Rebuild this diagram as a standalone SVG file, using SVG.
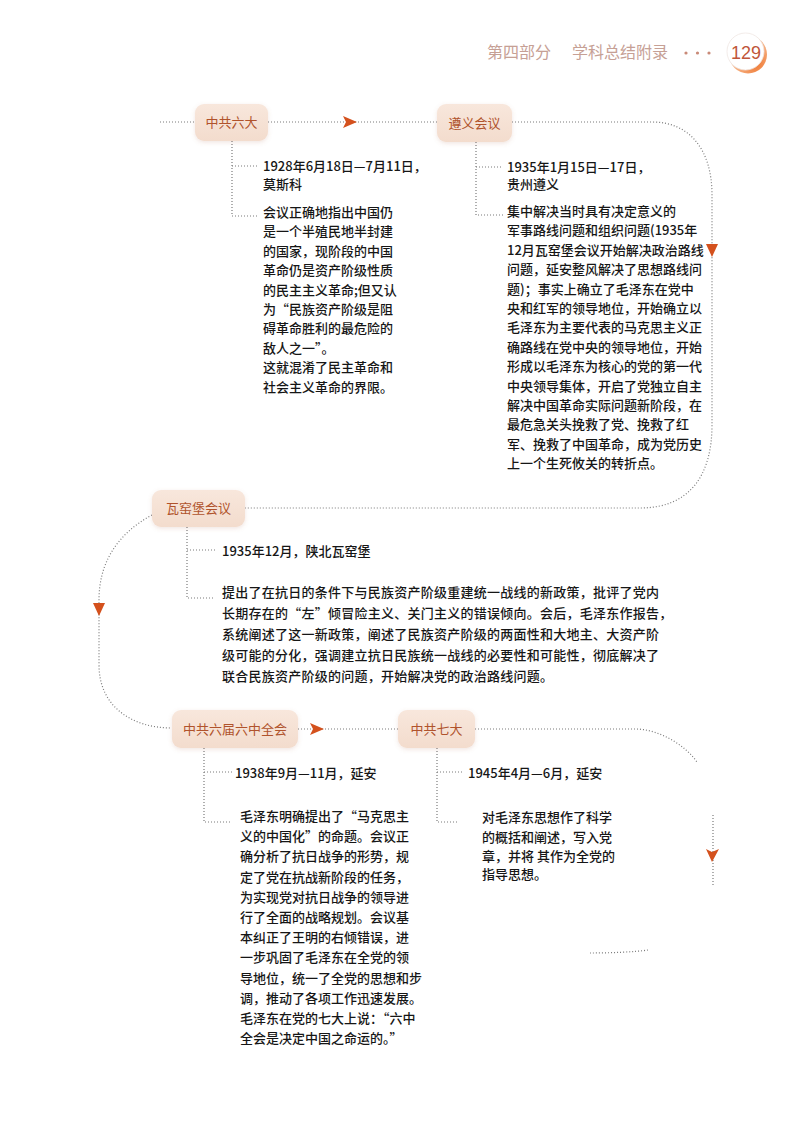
<svg xmlns="http://www.w3.org/2000/svg" width="800" height="1130" viewBox="0 0 800 1130">
<defs>
<filter id="sh" x="-20%" y="-30%" width="140%" height="170%">
<feDropShadow dx="0" dy="1.5" stdDeviation="2" flood-color="#b07050" flood-opacity="0.18"/>
</filter>
<linearGradient id="ng" x1="0" y1="0" x2="0" y2="1">
<stop offset="0" stop-color="#f8e7dc"/>
<stop offset="1" stop-color="#f3dccd"/>
</linearGradient>
<radialGradient id="og" cx="0.7" cy="0.75" r="0.6">
<stop offset="0" stop-color="#f07a35"/>
<stop offset="1" stop-color="#f6b68a"/>
</radialGradient>
</defs>
<style>
.hd{font-family:"Noto Sans CJK SC","Noto Sans",sans-serif;font-size:16px;fill:#c6a095}
.nb{fill:url(#ng);filter:url(#sh)}
.nt{font-family:"Noto Sans CJK SC","Noto Sans",sans-serif;font-size:13px;fill:#b0532c;text-anchor:middle}
.bt{font-family:"Noto Sans CJK SC","Noto Sans",sans-serif;font-size:13px;font-weight:500;fill:#161616}
.cn{fill:none;stroke:#7a7a7a;stroke-width:1.2;stroke-dasharray:1 2}
.ar{fill:#d4511d}
</style>
<rect width="800" height="1130" fill="#ffffff"/>
<!-- header -->
<g id="header">
<text class="hd" x="487" y="58">第四部分</text>
<text class="hd" x="572" y="58">学科总结附录</text>
<circle cx="686" cy="53" r="1.6" fill="#c98a78"/>
<circle cx="697.5" cy="53" r="1.6" fill="#c98a78"/>
<circle cx="709" cy="53" r="1.6" fill="#c98a78"/>
<circle cx="748" cy="54.5" r="19" fill="url(#og)"/>
<circle cx="745.5" cy="51.5" r="18.5" fill="#ffffff" stroke="#efe6e2" stroke-width="0.8"/>
<text x="746" y="58.5" font-family="'Liberation Sans','Noto Sans',sans-serif" font-size="18" fill="#c0563a" text-anchor="middle">129</text>
</g>
<!-- connectors -->
<g id="connectors">
<path class="cn" d="M160,122 H195"/>
<path class="cn" d="M268,122 H437"/>
<path class="cn" d="M512,122 H652 C690,122 712,150 712,195 V425 C712,475 690,508 640,508 H245"/>
<path class="cn" d="M152,515 C115,535 99,565 99,600 V665 C99,705 130,728 172,728"/>
<path class="cn" d="M298,729 H398"/>
<path class="cn" d="M475,729 H637 C660,730 685,745 697,762"/>
<path class="cn" d="M713,815 V887"/>
<path class="cn" d="M590,953 C610,953 635,952 648,950"/>
<path class="cn" d="M232,141 V216 H258 M232,166 H258"/>
<path class="cn" d="M476,142 V215 H503 M476,167 H503"/>
<path class="cn" d="M187,527 V598 H213 M187,550 H217"/>
<path class="cn" d="M204,748 V822 H230 M204,772 H232"/>
<path class="cn" d="M437,748 V822 H458 M437,772 H463"/>
<path class="ar" d="M343,116 L357,122 L343,128 L346,122 Z"/>
<path class="ar" d="M310,723 L324,729 L310,735 L313,729 Z"/>
<path class="ar" d="M706,244 L718,244 L712,257 Z"/>
<path class="ar" d="M93,603 L105,603 L99,616 Z"/>
<path class="ar" d="M706,849 L712,852 L719,849 L712,862 Z"/>
</g>
<!-- nodes -->
<g id="node-liuda">
<rect class="nb" x="195" y="104" width="73" height="37" rx="9"/>
<text class="nt" x="231.5" y="127">中共六大</text>
<text class="bt"><tspan x="263" y="171">1928年6月18日—7月11日，</tspan><tspan x="263" y="188.5">莫斯科</tspan></text>
<text class="bt"><tspan x="263" y="217">会议正确地指出中国仍</tspan><tspan x="263" y="236.4">是一个半殖民地半封建</tspan><tspan x="263" y="255.8">的国家，现阶段的中国</tspan><tspan x="263" y="275.2">革命仍是资产阶级性质</tspan><tspan x="263" y="294.6">的民主主义革命;但又认</tspan><tspan x="263" y="314">为“民族资产阶级是阻</tspan><tspan x="263" y="333.4">碍革命胜利的最危险的</tspan><tspan x="263" y="352.8">敌人之一”。</tspan><tspan x="263" y="372.2">这就混淆了民主革命和</tspan><tspan x="263" y="391.6">社会主义革命的界限。</tspan></text>
</g>
<g id="node-zunyi">
<rect class="nb" x="437" y="104" width="75" height="38" rx="9"/>
<text class="nt" x="474.5" y="127.5">遵义会议</text>
<text class="bt"><tspan x="507" y="171.5">1935年1月15日—17日，</tspan><tspan x="507" y="189">贵州遵义</tspan></text>
<text class="bt"><tspan x="507" y="216">集中解决当时具有决定意义的</tspan><tspan x="507" y="235.4">军事路线问题和组织问题(1935年</tspan><tspan x="507" y="254.8">12月瓦窑堡会议开始解决政治路线</tspan><tspan x="507" y="274.2">问题，延安整风解决了思想路线问</tspan><tspan x="507" y="293.6">题)；事实上确立了毛泽东在党中</tspan><tspan x="507" y="313">央和红军的领导地位，开始确立以</tspan><tspan x="507" y="332.4">毛泽东为主要代表的马克思主义正</tspan><tspan x="507" y="351.8">确路线在党中央的领导地位，开始</tspan><tspan x="507" y="371.2">形成以毛泽东为核心的党的第一代</tspan><tspan x="507" y="390.6">中央领导集体，开启了党独立自主</tspan><tspan x="507" y="410">解决中国革命实际问题新阶段，在</tspan><tspan x="507" y="429.4">最危急关头挽救了党、挽救了红</tspan><tspan x="507" y="448.8">军、挽救了中国革命，成为党历史</tspan><tspan x="507" y="468.2">上一个生死攸关的转折点。</tspan></text>
</g>
<g id="node-wayaobao">
<rect class="nb" x="152" y="490" width="93" height="37" rx="9"/>
<text class="nt" x="198.5" y="513">瓦窑堡会议</text>
<text class="bt" x="222" y="556">1935年12月，陕北瓦窑堡</text>
<text class="bt" letter-spacing="0.25"><tspan x="222" y="597">提出了在抗日的条件下与民族资产阶级重建统一战线的新政策，批评了党内</tspan><tspan x="222" y="618">长期存在的“左”倾冒险主义、关门主义的错误倾向。会后，毛泽东作报告，</tspan><tspan x="222" y="639">系统阐述了这一新政策，阐述了民族资产阶级的两面性和大地主、大资产阶</tspan><tspan x="222" y="660">级可能的分化，强调建立抗日民族统一战线的必要性和可能性，彻底解决了</tspan><tspan x="222" y="681">联合民族资产阶级的问题，开始解决党的政治路线问题。</tspan></text>
</g>
<g id="node-liuzhong">
<rect class="nb" x="172" y="710" width="126" height="38" rx="9"/>
<text class="nt" x="235" y="733.5">中共六届六中全会</text>
<text class="bt" x="235" y="778">1938年9月—11月，延安</text>
<text class="bt"><tspan x="240" y="821">毛泽东明确提出了“马克思主</tspan><tspan x="240" y="841.2">义的中国化”的命题。会议正</tspan><tspan x="240" y="861.4">确分析了抗日战争的形势，规</tspan><tspan x="240" y="881.6">定了党在抗战新阶段的任务，</tspan><tspan x="240" y="901.8">为实现党对抗日战争的领导进</tspan><tspan x="240" y="922">行了全面的战略规划。会议基</tspan><tspan x="240" y="942.2">本纠正了王明的右倾错误，进</tspan><tspan x="240" y="962.4">一步巩固了毛泽东在全党的领</tspan><tspan x="240" y="982.6">导地位，统一了全党的思想和步</tspan><tspan x="240" y="1002.8">调，推动了各项工作迅速发展。</tspan><tspan x="240" y="1023">毛泽东在党的七大上说：“六中</tspan><tspan x="240" y="1043.2">全会是决定中国之命运的。”</tspan></text>
</g>
<g id="node-qida">
<rect class="nb" x="398" y="710" width="77" height="38" rx="9"/>
<text class="nt" x="436.5" y="733.5">中共七大</text>
<text class="bt" x="468" y="778">1945年4月—6月，延安</text>
<text class="bt"><tspan x="482" y="822">对毛泽东思想作了科学</tspan><tspan x="482" y="842">的概括和阐述，写入党</tspan><tspan x="482" y="861">章，并将 其作为全党的</tspan><tspan x="482" y="879">指导思想。</tspan></text>
</g>
</svg>
